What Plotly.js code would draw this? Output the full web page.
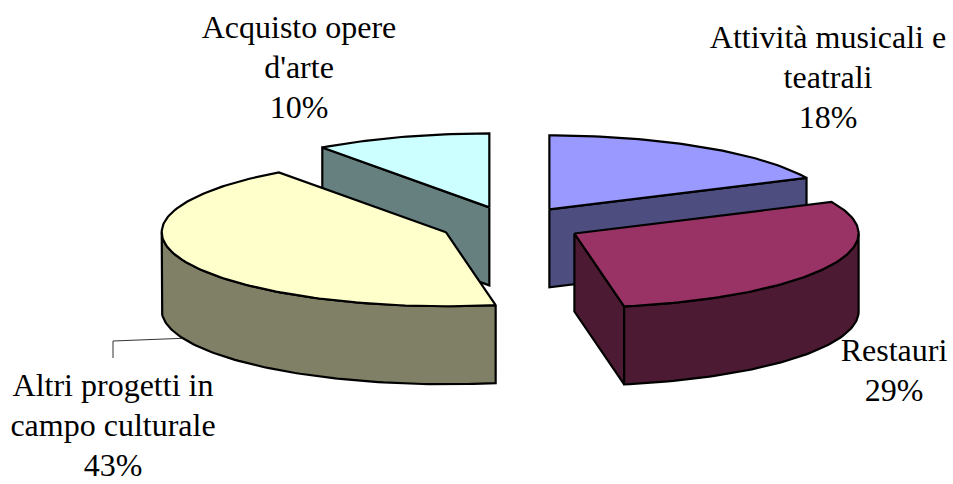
<!DOCTYPE html>
<html><head><meta charset="utf-8">
<script src="https://cdn.plot.ly/plotly-3.0.1.min.js"></script>
<style>html,body{margin:0;padding:0;background:#fff}#c{width:953px;height:484px}</style>
</head><body><div id="c"></div>
<script>
const categories = ["Attività musicali e|teatrali", "Restauri", "Altri progetti in|campo culturale", "Acquisto opere|d'arte"];
const values = [18, 29.2, 42.8, 10];
const topColors = ["#9999FF", "#993366", "#FFFFCC", "#CCFFFF"];
const sideColors = ["#4D4D80", "#4D1A33", "#808066", "#668080"];
const labelPos = [[828, 80], [894, 373], [113, 428], [299, 70]];

const cx = 511.3, cy = 225, rx = 284.2, ry = 74, depth = 78, explode = 0.25, lineGap = 39.7;
const total = values.reduce((a, b) => a + b, 0);
let acc = 0;
const slices = values.map((v, i) => {
  const a0 = acc / total * 2 * Math.PI; acc += v;
  const a1 = acc / total * 2 * Math.PI, m = (a0 + a1) / 2;
  return {i, a0, a1, ox: cx + explode * rx * Math.sin(m), oy: cy - explode * ry * Math.cos(m)};
});
const pt = (s, a, d) => [s.ox + rx * Math.sin(a), s.oy - ry * Math.cos(a) + (d || 0)];
function arc(s, a0, a1, d) {
  const n = Math.max(2, Math.ceil((a1 - a0) / 0.02)), out = [];
  for (let k = 0; k <= n; k++) out.push(pt(s, a0 + (a1 - a0) * k / n, d));
  return out;
}
const traces = [];
const leaderX = [113, 113, 190], leaderY = [358, 341, 338];
traces.push({type: "scatter", mode: "lines", x: leaderX, y: leaderY,
  line: {color: "#333", width: 1}, hoverinfo: "skip", showlegend: false});
function poly(points, fill) {
  const c = points.concat([points[0]]);
  traces.push({type: "scatter", mode: "lines", x: c.map(p => p[0]), y: c.map(p => p[1]),
    fill: "toself", fillcolor: fill, line: {color: "#000", width: 2.2}, hoverinfo: "skip", showlegend: false});
}
function drawSlice(s) {
  const o = [s.ox, s.oy], od = [s.ox, s.oy + depth];
  if (s.a1 < Math.PI)
    poly([o, pt(s, s.a1), pt(s, s.a1, depth), od], sideColors[s.i]);
  if (s.a0 > Math.PI * 1.5)
    poly([o, pt(s, s.a0), pt(s, s.a0, depth), od], sideColors[s.i]);
  const r0 = Math.max(s.a0, Math.PI / 2), r1 = Math.min(s.a1, Math.PI * 1.5);
  if (r1 > r0) poly(arc(s, r0, r1).concat(arc(s, r0, r1, depth).reverse()), sideColors[s.i]);
  poly([o].concat(arc(s, s.a0, s.a1)), topColors[s.i]);
}
[3, 0, 2, 1].forEach(i => drawSlice(slices[i]));

categories.forEach((c, i) => {
  const lines = c.split("|").concat([Math.round(values[i] / total * 100) + "%"]);
  traces.push({type: "scatter", mode: "text", cliponaxis: false,
    x: lines.map(() => labelPos[i][0]),
    y: lines.map((_, k) => labelPos[i][1] + (k - (lines.length - 1) / 2) * lineGap),
    text: lines, textposition: "middle center", hoverinfo: "skip", showlegend: false,
    textfont: {family: "'Liberation Serif','Times New Roman',serif", size: 32, color: "#000"}});
});
Plotly.newPlot("c", traces, {
  width: 953, height: 484, margin: {l: 0, r: 0, t: 0, b: 0},
  paper_bgcolor: "#fff", plot_bgcolor: "#fff", showlegend: false,
  xaxis: {range: [0, 953], visible: false, fixedrange: true},
  yaxis: {range: [484, 0], visible: false, fixedrange: true}
}, {displayModeBar: false, staticPlot: true});
</script></body></html>
